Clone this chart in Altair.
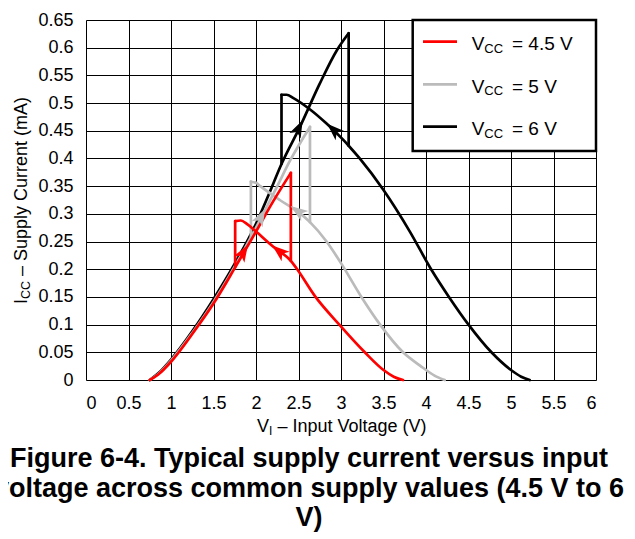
import altair as alt
import pandas as pd

# ---------------- data ----------------
x_ticks = [0, 0.5, 1, 1.5, 2, 2.5, 3, 3.5, 4, 4.5, 5, 5.5, 6]
y_ticks = [0, 0.05, 0.1, 0.15, 0.2, 0.25, 0.3, 0.35, 0.4, 0.45, 0.5, 0.55, 0.6, 0.65]

series_names = ["4.5 V", "5 V", "6 V"]
series_colors = ["#FF0000", "#BBBBBB", "#000000"]

# VCC = 4.5 V
red_rise_v = [0.75, 0.85, 1.0, 1.25, 1.5, 1.75, 2.0, 2.2, 2.41]
red_rise_i = [0.0, 0.010, 0.033, 0.083, 0.138, 0.202, 0.268, 0.322, 0.374]
red_drop_v = [2.41, 2.41]
red_drop_i = [0.374, 0.215]
red_jump_v = [1.755, 1.755]
red_jump_i = [0.204, 0.287]
red_fall_v = [1.755, 1.82, 1.9, 2.0, 2.2, 2.41, 2.47, 2.7, 2.98, 3.28, 3.5, 3.62, 3.73]
red_fall_i = [0.287, 0.288, 0.281, 0.268, 0.241, 0.215, 0.203, 0.15, 0.10, 0.05, 0.018, 0.006, 0.0]

# VCC = 5 V
grey_rise_v = [0.75, 0.85, 1.0, 1.25, 1.5, 1.75, 2.0, 2.25, 2.4, 2.635]
grey_rise_i = [0.0, 0.011, 0.035, 0.085, 0.141, 0.205, 0.275, 0.350, 0.396, 0.457]
grey_drop_v = [2.635, 2.635]
grey_drop_i = [0.457, 0.285]
grey_jump_v = [1.94, 1.94]
grey_jump_i = [0.258, 0.358]
grey_fall_v = [1.94, 2.0, 2.05, 2.28, 2.5, 2.635, 2.83, 3.0, 3.24, 3.46, 3.73, 3.93, 4.1, 4.22]
grey_fall_i = [0.358, 0.356, 0.350, 0.325, 0.303, 0.285, 0.25, 0.211, 0.15, 0.10, 0.05, 0.026, 0.008, 0.0]

# VCC = 6 V
black_rise_v = [0.75, 0.85, 1.0, 1.25, 1.5, 1.75, 2.0, 2.15, 2.3, 2.52, 2.75, 2.95, 3.09]
black_rise_i = [0.0, 0.012, 0.037, 0.088, 0.146, 0.21, 0.282, 0.335, 0.39, 0.458, 0.535, 0.595, 0.626]
black_drop_v = [3.09, 3.09]
black_drop_i = [0.626, 0.423]
black_jump_v = [2.30, 2.30]
black_jump_i = [0.39, 0.515]
black_fall_v = [2.30, 2.36, 2.44, 2.64, 2.83, 3.03, 3.09, 3.22, 3.50, 3.81, 4.06, 4.27, 4.50, 4.77, 5.0, 5.12, 5.22]
black_fall_i = [0.515, 0.515, 0.509, 0.488, 0.463, 0.433, 0.423, 0.400, 0.343, 0.268, 0.20, 0.15, 0.10, 0.05, 0.018, 0.006, 0.0]

# direction arrows: series, V, I, angle (deg clockwise from up)
arrow_series = ["4.5 V", "4.5 V", "5 V", "5 V", "6 V", "6 V"]
arrow_v = [1.853, 2.27, 2.06, 2.49, 2.504, 2.912]
arrow_i = [0.231, 0.233, 0.295, 0.305, 0.455, 0.452]
arrow_angle = [31, 310, 28, 305, 26, 313]

legend_values = ["= 4.5 V", "= 5 V", "= 6 V"]

title_lines = [
    "Figure 6-4. Typical supply current versus input",
    "voltage across common supply values (4.5 V to 6",
    "V)",
]

FONT = "Liberation Sans"

# ---------------- build tables ----------------
def seg_rows(name, parts):
    rows = []
    for seg, (vs, is_) in parts.items():
        for k, (v, i) in enumerate(zip(vs, is_)):
            rows.append({"series": name, "seg": seg, "idx": k, "v": v, "i": i})
    return pd.DataFrame(rows)

red_df = seg_rows("4.5 V", {"rise": (red_rise_v, red_rise_i), "drop": (red_drop_v, red_drop_i),
                            "jump": (red_jump_v, red_jump_i), "fall": (red_fall_v, red_fall_i)})
grey_df = seg_rows("5 V", {"rise": (grey_rise_v, grey_rise_i), "drop": (grey_drop_v, grey_drop_i),
                           "jump": (grey_jump_v, grey_jump_i), "fall": (grey_fall_v, grey_fall_i)})
black_df = seg_rows("6 V", {"rise": (black_rise_v, black_rise_i), "drop": (black_drop_v, black_drop_i),
                            "jump": (black_jump_v, black_jump_i), "fall": (black_fall_v, black_fall_i)})

color_scale = alt.Scale(domain=series_names, range=series_colors)

x_axis = alt.Axis(values=x_ticks, format="~g", title=None, grid=True,
                  gridColor="black", gridWidth=1, gridOpacity=1, labelOverlap=False,
                  domain=False, ticks=False, tickSize=0, labelPadding=14,
                  labelFontSize=18, labelFont=FONT, labelColor="black")
y_axis = alt.Axis(values=y_ticks, format="~g", title=None, grid=True,
                  gridColor="black", gridWidth=1, gridOpacity=1, labelOverlap=False,
                  domain=False, ticks=False, tickSize=0, labelPadding=13,
                  labelFontSize=18, labelFont=FONT, labelColor="black")
x_enc = alt.X("v:Q", scale=alt.Scale(domain=[0, 6], nice=False, zero=False), axis=x_axis)
y_enc = alt.Y("i:Q", scale=alt.Scale(domain=[0, 0.65], nice=False, zero=False), axis=y_axis)


def line_layer(df):
    return alt.Chart(df).mark_line(strokeWidth=2.7, interpolate="monotone",
                                   strokeCap="round", strokeJoin="round").encode(
        x=x_enc, y=y_enc,
        color=alt.Color("series:N", scale=color_scale, legend=None),
        detail="seg:N", order="idx:Q")

arrow_df = pd.DataFrame({"series": arrow_series, "v": arrow_v, "i": arrow_i, "ang": arrow_angle})
ARROW = "M0,-1 L0.72,1 L0,0.5 L-0.72,1 Z"
arrows = alt.Chart(arrow_df).mark_point(shape=ARROW, filled=True, size=300, opacity=1,
                                        strokeWidth=0).encode(
    x=x_enc, y=y_enc,
    color=alt.Color("series:N", scale=color_scale, legend=None),
    angle=alt.Angle("ang:Q", scale=None))

# ---------------- custom legend (pixel layout inside plot) ----------------
legend_box = alt.Chart(pd.DataFrame({"a": [0]})).mark_rect(
    fill="white", stroke="black", strokeWidth=2.5).encode(
    x=alt.value(326.7), x2=alt.value(510), y=alt.value(0), y2=alt.value(131))

row_y = [21.7, 64.3, 106.7]
leg_lines = pd.DataFrame({"series": series_names, "lx": [337] * 3, "lx2": [371] * 3, "ly": row_y})
legend_lines = alt.Chart(leg_lines).mark_rule(strokeWidth=2.7).encode(
    x=alt.X("lx:Q", scale=None, axis=None), x2="lx2:Q",
    y=alt.Y("ly:Q", scale=None, axis=None),
    color=alt.Color("series:N", scale=color_scale, legend=None))

base_y = [30, 72.7, 115]
txt_rows = []
for by, val in zip(base_y, legend_values):
    txt_rows.append({"t": "V", "px": 385.7, "py": by, "fs": 19, "ang": 0})
    txt_rows.append({"t": "CC", "px": 398.3, "py": by + 2.7, "fs": 13, "ang": 0})
    txt_rows.append({"t": val, "px": 426, "py": by, "fs": 19, "ang": 0})
# x axis title
txt_rows.append({"t": "V", "px": 171, "py": 411.5, "fs": 18, "ang": 0})
txt_rows.append({"t": "I", "px": 183, "py": 414.5, "fs": 12, "ang": 0})
txt_rows.append({"t": "\u2013 Input Voltage (V)", "px": 191.5, "py": 411.5, "fs": 18, "ang": 0})
# y axis title (rotated)
txt_rows.append({"t": "I", "px": -58.7, "py": 284, "fs": 18, "ang": 270})
txt_rows.append({"t": "CC", "px": -55.7, "py": 279, "fs": 12.5, "ang": 270})
txt_rows.append({"t": "\u2013 Supply Current (mA)", "px": -58.7, "py": 256, "fs": 18, "ang": 270})
txt_df = pd.DataFrame(txt_rows)

texts = alt.Chart(txt_df).mark_text(align="left", baseline="alphabetic", font=FONT,
                                    color="black").encode(
    x=alt.X("px:Q", scale=None, axis=None), y=alt.Y("py:Q", scale=None, axis=None),
    text="t:N", size=alt.Size("fs:Q", scale=None, legend=None),
    angle=alt.Angle("ang:Q", scale=None))

title_df = pd.DataFrame({"t": title_lines, "px": [223] * 3, "py": [447, 477, 506]})
title = alt.Chart(title_df).mark_text(align="center", baseline="alphabetic", font=FONT,
                                      fontWeight="bold", fontSize=27, color="black").encode(
    x=alt.X("px:Q", scale=None, axis=None), y=alt.Y("py:Q", scale=None, axis=None),
    text="t:N")

chart = alt.layer(
    line_layer(black_df), line_layer(grey_df), line_layer(red_df), arrows,
    legend_box, legend_lines, texts, title,
).properties(
    width=510, height=360,
    autosize=alt.AutoSizeParams(type="none"),
    padding={"left": 78, "top": 12, "right": 31, "bottom": 156},
).configure_view(
    stroke="black", strokeWidth=3
).configure(background="white")

chart.save("out.html", embed_options={"renderer": "svg", "actions": False})
